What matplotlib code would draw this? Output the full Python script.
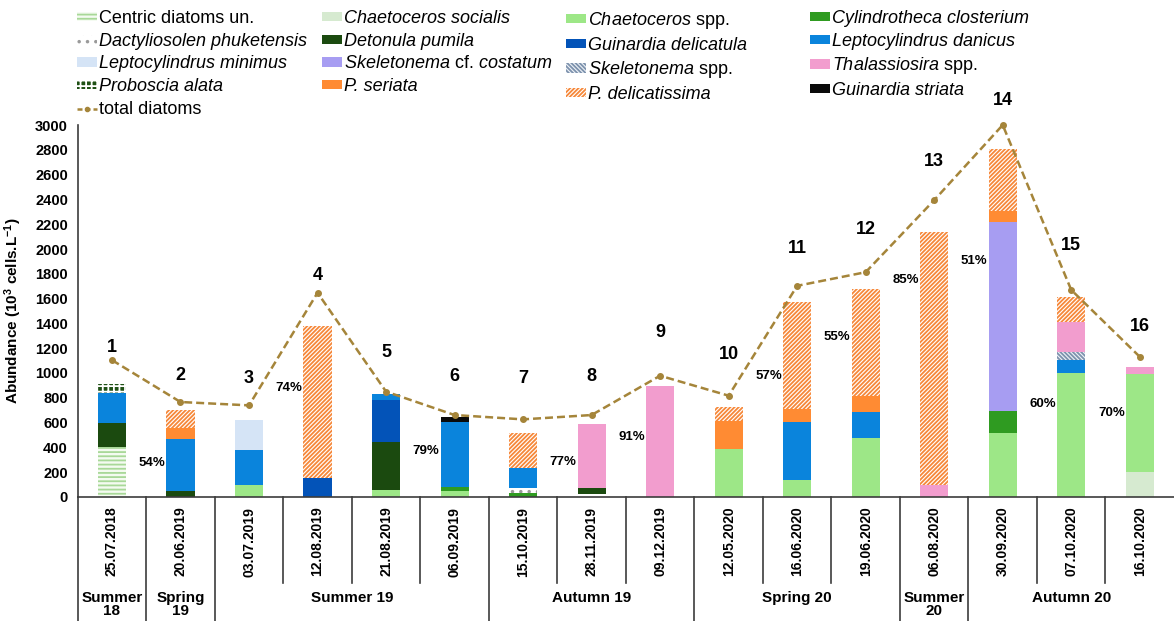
import numpy as np
import matplotlib.pyplot as plt
import matplotlib.transforms as mtransforms
from matplotlib.patches import Patch
from matplotlib.lines import Line2D

plt.rcParams['font.family'] = 'Liberation Sans'
plt.rcParams['mathtext.fontset'] = 'custom'
plt.rcParams['mathtext.rm'] = 'Liberation Sans'
plt.rcParams['mathtext.it'] = 'Liberation Sans:italic'
plt.rcParams['mathtext.bf'] = 'Liberation Sans:bold'
plt.rcParams['hatch.linewidth'] = 1.3

dates = ['25.07.2018', '20.06.2019', '03.07.2019', '12.08.2019', '21.08.2019', '06.09.2019',
         '15.10.2019', '28.11.2019', '09.12.2019', '12.05.2020', '16.06.2020', '19.06.2020',
         '06.08.2020', '30.09.2020', '07.10.2020', '16.10.2020']

season_names = ['Summer\n18', 'Spring\n19', 'Summer 19', 'Autumn 19', 'Spring 20', 'Summer\n20', 'Autumn 20']
season_first = [0, 1, 2, 6, 9, 12, 13]
season_last = [0, 1, 5, 8, 11, 12, 15]

# abundances, 10^3 cells/L
centric = [405, 0, 0, 0, 0, 0, 0, 0, 0, 0, 0, 0, 0, 0, 0, 0]
chaet_socialis = [0, 0, 0, 0, 0, 0, 0, 0, 0, 0, 0, 0, 0, 0, 0, 199]
chaet_spp = [0, 0, 97, 0, 56, 48, 0, 0, 0, 387, 137, 478, 0, 513, 1002, 792]
cylindrotheca = [0, 0, 0, 0, 0, 30, 35, 0, 0, 0, 0, 0, 0, 180, 0, 0]
dactyliosolen = [0, 0, 0, 0, 0, 0, 40, 25, 0, 0, 0, 0, 0, 0, 0, 0]
detonula = [190, 48, 0, 0, 390, 0, 0, 50, 0, 0, 0, 0, 0, 0, 0, 0]
guin_delicatula = [0, 0, 0, 156, 336, 0, 0, 0, 0, 0, 0, 0, 0, 0, 0, 0]
lept_danicus = [245, 417, 282, 0, 46, 524, 156, 0, 0, 0, 465, 205, 0, 0, 102, 0]
lept_minimus = [0, 0, 241, 0, 0, 0, 0, 0, 0, 0, 0, 0, 0, 0, 0, 0]
skel_costatum = [0, 0, 0, 0, 0, 0, 0, 0, 0, 0, 0, 0, 0, 1526, 0, 0]
skel_spp = [0, 0, 0, 0, 0, 0, 0, 0, 0, 0, 0, 0, 0, 0, 62, 0]
thalassiosira = [0, 0, 0, 0, 0, 0, 0, 513, 895, 0, 0, 0, 99, 0, 242, 59]
proboscia = [70, 0, 0, 0, 0, 0, 0, 0, 0, 0, 0, 0, 0, 0, 0, 0]
p_seriata = [0, 94, 0, 0, 0, 0, 0, 0, 0, 226, 107, 131, 0, 86, 0, 0]
p_delicatissima = [0, 142, 0, 1222, 0, 0, 287, 0, 0, 115, 865, 862, 2037, 505, 201, 0]
guin_striata = [0, 0, 0, 0, 0, 40, 0, 0, 0, 0, 0, 0, 0, 0, 0, 0]

total_diatoms = [1104, 766, 739, 1647, 850, 661, 626, 661, 978, 817, 1703, 1813, 2394, 3000, 1670, 1131]
number_y = [1204, 983, 959, 1789, 1169, 970, 959, 970, 1324, 1150, 2004, 2157, 2703, 3201, 2031, 1378]

pct_bars = [1, 3, 5, 7, 8, 10, 11, 12, 13, 14, 15]
pct_vals = [54, 74, 79, 77, 91, 57, 55, 85, 51, 60, 70]
pct_y = [274, 878, 371, 281, 484, 975, 1290, 1749, 1903, 753, 677]

# label, values, face colour, hatch colour, hatch, italic
species = [
    ('Centric diatoms un.', centric, '#f4fbf1', '#a8d898', '----', False),
    ('Chaetoceros socialis', chaet_socialis, '#d6ead0', None, None, True),
    (r'$\mathit{Chaetoceros}$ spp.', chaet_spp, '#9de787', None, None, False),
    ('Cylindrotheca closterium', cylindrotheca, '#2f9b21', None, None, True),
    ('Dactyliosolen phuketensis', dactyliosolen, '#ffffff', '#9a9a9a', '..', True),
    ('Detonula pumila', detonula, '#1b4a0f', None, None, True),
    ('Guinardia delicatula', guin_delicatula, '#0353b8', None, None, True),
    ('Leptocylindrus danicus', lept_danicus, '#0a84dc', None, None, True),
    ('Leptocylindrus minimus', lept_minimus, '#d5e4f6', None, None, True),
    (r'$\mathit{Skeletonema}$ cf. $\mathit{costatum}$', skel_costatum, '#a79df2', None, None, False),
    (r'$\mathit{Skeletonema}$ spp.', skel_spp, '#eef2f7', '#7d92ad', '\\\\\\\\\\\\\\\\', False),
    (r'$\mathit{Thalassiosira}$ spp.', thalassiosira, '#f29dce', None, None, False),
    ('Proboscia alata', proboscia, '#1f5015', '#ffffff', '+++', True),
    ('P. seriata', p_seriata, '#ff8b33', None, None, True),
    ('P. delicatissima', p_delicatissima, '#ffffff', '#f6883a', '////////', True),
    ('Guinardia striata', guin_striata, '#0a0a0a', None, None, True),
]

line_color = '#a5853a'
axis_color = '#3c3c3c'

fig = plt.figure(figsize=(11.74, 6.21), dpi=100)
ax = fig.add_axes([0.0662, 0.1997, 0.9338, 0.599])

x = np.arange(len(dates))
bottom = np.zeros(len(dates))
handles = []
italic = []
for label, vals, face, hcol, hatch, it in species:
    vals = np.array(vals, dtype=float)
    ax.bar(x, vals, 0.41, bottom=bottom, color=face,
           edgecolor=hcol if hcol else face, hatch=hatch, linewidth=0, zorder=2)
    bottom += vals
    handles.append(Patch(facecolor=face, edgecolor=hcol if hcol else face,
                         hatch=hatch, linewidth=0, label=label))
    italic.append(it)

ax.plot(x, total_diatoms, color=line_color, lw=1.8, linestyle=(0, (3.2, 1.6)),
        marker='o', ms=4, clip_on=False, zorder=5)
handles.append(Line2D([], [], color=line_color, lw=1.8, linestyle=(0, (2, 1.2)),
                      marker='o', ms=3, label='total diatoms'))
italic.append(False)

for i, yv in enumerate(number_y):
    ax.text(i, yv, str(i + 1), ha='center', va='center', fontsize=13,
            fontweight='bold', clip_on=False)

for b, v, yv in zip(pct_bars, pct_vals, pct_y):
    ax.text(b - 0.22, yv, f'{v}%', ha='right', va='center', fontsize=9.5, fontweight='bold')

ax.set_xlim(-0.5, len(dates) - 0.5)
ax.set_ylim(0, 3000)
ax.set_yticks(np.arange(0, 3001, 200))
ax.set_yticklabels([str(v) for v in range(0, 3001, 200)], fontweight='bold', fontsize=10.5)
ax.tick_params(axis='y', length=0, pad=7)
ax.set_xticks(x)
ax.set_xticklabels(dates, rotation=90, fontweight='bold', fontsize=10)
ax.tick_params(axis='x', length=0, pad=7)
ax.set_ylabel(r'Abundance (10$^{\mathbf{3}}$ cells.L$^{\mathbf{-1}}$)', fontweight='bold',
              fontsize=11, labelpad=8)
for side in ['top', 'right']:
    ax.spines[side].set_visible(False)
for side in ['left', 'bottom']:
    ax.spines[side].set_color(axis_color)
    ax.spines[side].set_linewidth(1.2)

# table of dates and seasons below the axis
trans = mtransforms.blended_transform_factory(ax.transData, ax.transAxes)
group_edges = [f - 0.5 for f in season_first]
for b in np.arange(0.5, len(dates) - 0.5):
    depth = -0.36 if b in group_edges else -0.231
    ax.plot([b, b], [0, depth], transform=trans, clip_on=False, color=axis_color, lw=1.2)
ax.plot([-0.5, -0.5], [0, -0.36], transform=trans, clip_on=False, color=axis_color, lw=1.2)
for name, f, l in zip(season_names, season_first, season_last):
    ax.text((f + l) / 2, -0.252, name, transform=trans, ha='center', va='top',
            fontsize=11, fontweight='bold', linespacing=0.95)

# legend laid out as four columns, filled row by row
col_x = [0.0656, 0.2743, 0.4821, 0.6900]
for c, cx in enumerate(col_x):
    leg = fig.legend(handles=handles[c::4], loc='upper left', bbox_to_anchor=(cx, 0.984),
                     frameon=False, fontsize=13, borderpad=0, borderaxespad=0,
                     handlelength=1.1, handleheight=0.4, handletextpad=0.1,
                     labelspacing=0.32)
    for t, it in zip(leg.get_texts(), italic[c::4]):
        if it:
            t.set_fontstyle('italic')

fig.savefig('out.png', dpi=100)
